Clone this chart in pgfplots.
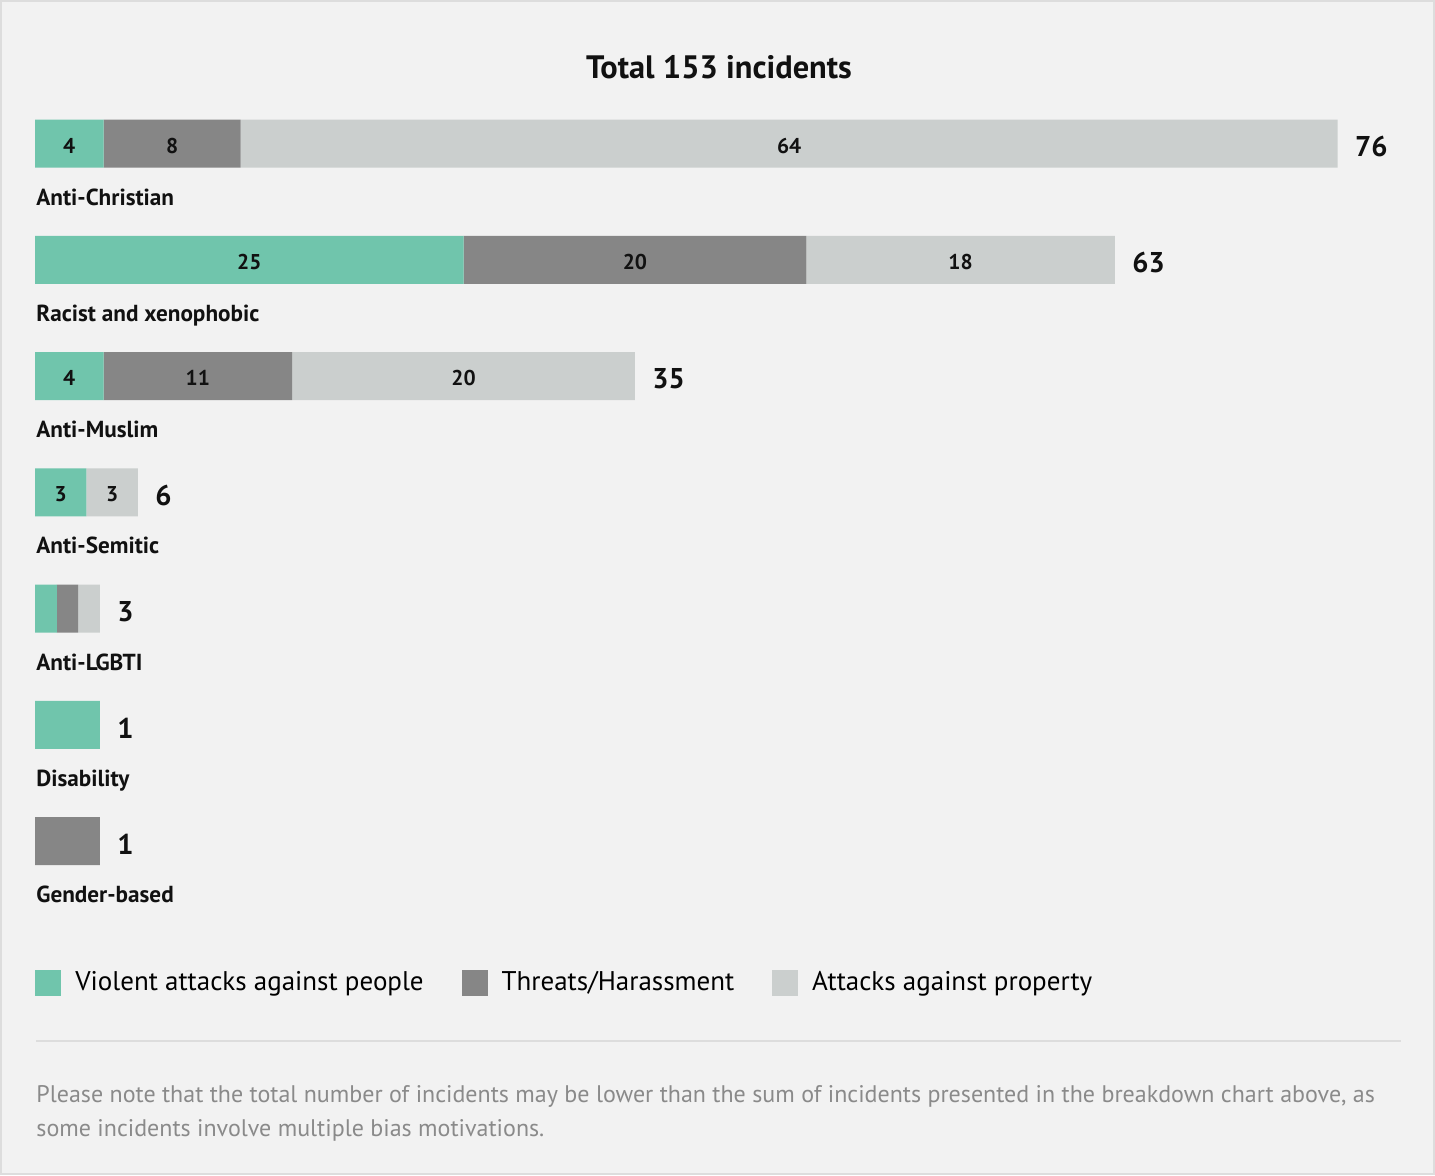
\documentclass[border=0pt]{standalone}
\usepackage{pgfplots}
\usepackage{pgfplotstable}
\pgfplotsset{compat=1.18}
\usepackage{fontspec}
\setmainfont{PT Sans}
\definecolor{cViol}{HTML}{70C5AC}
\definecolor{cThr}{HTML}{868686}
\definecolor{cProp}{HTML}{CBCFCE}
\definecolor{cBg}{HTML}{F2F2F2}
\definecolor{cBorder}{HTML}{DDDDDD}
\definecolor{cNote}{HTML}{8A8A8A}
\definecolor{cTxt}{HTML}{111111}
\tikzset{
  cat/.style={anchor=base west, inner sep=0pt, xshift=0.5pt, yshift=-30.75pt, font=\bfseries\fontsize{11.6}{14}\selectfont, text=cTxt},
}
% bar widths as displayed (small bars are drawn with a minimum width in the reference);
% lv, lt, lp: the values printed in the segments (0 = no label); total: printed total;
% cap: an invisible, near-zero segment that carries the total at the end of each bar
\pgfplotstableread{
row viol thr prop cap lv lt lp total
0 4 8 64 0.01 4 8 64 76
1 25 20 18 0.01 25 20 18 63
2 4 11 20 0.01 4 11 20 35
3 3 0 3 0.01 3 0 3 6
4 1.28 1.23 1.28 0.01 0 0 0 3
5 3.79 0 0 0.01 0 0 0 1
6 0 3.79 0 0.01 0 0 0 1
}\datatable
\pgfplotsset{
  seglabels/.style={
    point meta=explicit,
    nodes near coords={\pgfmathfloatifflags{\pgfplotspointmeta}{0}{}{\pgfmathprintnumber[assume math mode=true]{\pgfplotspointmeta}}},
    nodes near coords style={anchor=center, inner sep=0pt, yshift=-1pt,
       font=\bfseries\fontsize{10.7}{12}\selectfont, text=cTxt}},
}
\begin{document}
\begin{tikzpicture}
\begin{scope}[x=0.5pt,y=-0.5pt]
\fill[cBg] (0,0) rectangle (1435,1175);
\draw[cBorder, line width=1pt] (1,1) rectangle (1434,1174);
\node[font=\bfseries\fontsize{16.2}{19}\selectfont, text=cTxt] at (719,67) {Total 153 incidents};
\draw[cBorder, line width=1pt] (36,1041) -- (1401,1041);
\node[anchor=base west, inner sep=0, font=\fontsize{12}{14}\selectfont, text=cNote] at (36,1102) {Please note that the total number of incidents may be lower than the sum of incidents presented in the breakdown chart above, as};
\node[anchor=base west, inner sep=0, font=\fontsize{12}{14}\selectfont, text=cNote] at (36,1136) {some incidents involve multiple bias motivations.};
\end{scope}
\begin{axis}[
  at={(17.5pt,-42.7pt)}, anchor=north west,
  scale only axis, width=685.6pt, height=406.9pt,
  xmin=0, xmax=80, ymin=-0.5, ymax=6.5, y dir=reverse,
  xbar stacked, bar width=24pt,
  hide axis, clip=false,
  legend columns=3,
  legend style={draw=none, fill=none, at={(0,-0.0834)}, anchor=north west,
    font=\fontsize{13.5}{16}\selectfont, inner xsep=0pt, inner ysep=0pt,
    /tikz/every odd column/.append style={column sep=5pt},
    /tikz/every even column/.append style={column sep=17pt}},
  legend image code/.code={\fill[#1] (0pt,-6.5pt) rectangle (13pt,6.5pt);},
]
\addplot[fill=cViol, draw=none, seglabels] table[x=viol, y=row, meta=lv] {\datatable};
\addlegendentry{Violent attacks against people}
\addplot[fill=cThr, draw=none, seglabels] table[x=thr, y=row, meta=lt] {\datatable};
\addlegendentry{Threats/Harassment}
\addplot[fill=cProp, draw=none, seglabels] table[x=prop, y=row, meta=lp] {\datatable};
\addlegendentry{Attacks against property}
\addplot[draw=none, fill=none, forget plot,
  point meta=explicit,
  nodes near coords={\pgfmathprintnumber[assume math mode=true]{\pgfplotspointmeta}},
  nodes near coords style={anchor=west, inner sep=0pt, xshift=8.5pt, yshift=-1.5pt,
     font=\bfseries\fontsize{14.3}{16}\selectfont, text=cTxt}]
  table[x=cap, y=row, meta=total] {\datatable};
\node[cat] at (axis cs:0,0) {Anti-Christian};
\node[cat] at (axis cs:0,1) {Racist and xenophobic};
\node[cat] at (axis cs:0,2) {Anti-Muslim};
\node[cat] at (axis cs:0,3) {Anti-Semitic};
\node[cat] at (axis cs:0,4) {Anti-LGBTI};
\node[cat] at (axis cs:0,5) {Disability};
\node[cat] at (axis cs:0,6) {Gender-based};
\end{axis}
\end{tikzpicture}
\end{document}
